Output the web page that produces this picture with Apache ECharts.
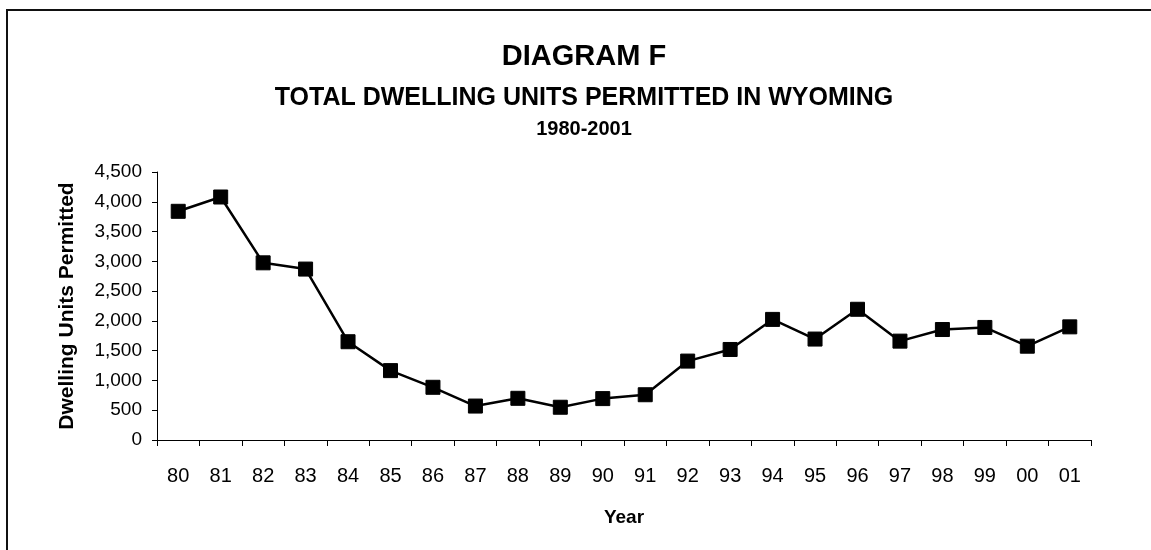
<!DOCTYPE html>
<html>
<head>
<meta charset="utf-8">
<script src="https://cdn.jsdelivr.net/npm/echarts@6/dist/echarts.min.js"></script>
<style>
  html, body { margin: 0; padding: 0; background: #fff; }
  #chart { width: 1151px; height: 550px; }
</style>
</head>
<body>
<div id="chart"></div>
<script>
const years = ['80', '81', '82', '83', '84', '85', '86', '87', '88', '89', '90',
  '91', '92', '93', '94', '95', '96', '97', '98', '99', '00', '01']
const unitsPermitted = [3840, 4080, 2975, 2870, 1650, 1165, 885, 570, 700, 550, 695,
  760, 1325, 1520, 2025, 1695, 2195, 1660, 1855, 1890, 1575, 1900]

const FONT = 'Arial, "Liberation Sans", Helvetica, sans-serif'

const chart = echarts.init(document.getElementById('chart'))

const option = {
  animation: false,
  backgroundColor: '#fff',
  grid: { left: 157, right: 60, top: 172, bottom: 110 },
  graphic: [
    // frame round the chart (only top and left edges are visible)
    {
      type: 'polyline',
      shape: { points: [[7, 560], [7, 10], [1160, 10]] },
      style: { stroke: '#111', lineWidth: 2, fill: null }
    },
    {
      type: 'text', x: 584, y: 57,
      style: { text: 'DIAGRAM F', align: 'center', verticalAlign: 'middle',
        fontFamily: FONT, fontWeight: 'bold', fontSize: 29, fill: '#000' }
    },
    {
      type: 'text', x: 584, y: 98,
      style: { text: 'TOTAL DWELLING UNITS PERMITTED IN WYOMING', align: 'center', verticalAlign: 'middle',
        fontFamily: FONT, fontWeight: 'bold', fontSize: 25, fill: '#000' }
    },
    {
      type: 'text', x: 584, y: 129,
      style: { text: '1980-2001', align: 'center', verticalAlign: 'middle',
        fontFamily: FONT, fontWeight: 'bold', fontSize: 20, fill: '#000' }
    }
  ],
  xAxis: {
    type: 'category',
    data: years,
    boundaryGap: true,
    name: 'Year',
    nameLocation: 'middle',
    nameGap: 68,
    nameTextStyle: { fontFamily: FONT, fontWeight: 'bold', fontSize: 19, color: '#000' },
    axisLine: { lineStyle: { color: '#000', width: 1 } },
    axisTick: { show: true, length: 6, inside: false, alignWithLabel: false, lineStyle: { color: '#000' } },
    axisLabel: { margin: 26, fontFamily: FONT, fontSize: 20, color: '#000' },
    splitLine: { show: false }
  },
  yAxis: {
    type: 'value',
    min: 0,
    max: 4500,
    interval: 500,
    name: 'Dwelling Units Permitted',
    nameLocation: 'middle',
    nameRotate: 90,
    nameGap: 79,
    nameTextStyle: { fontFamily: FONT, fontWeight: 'bold', fontSize: 21, color: '#000' },
    axisLine: { show: true, lineStyle: { color: '#000', width: 1 } },
    axisTick: { show: true, length: 5, lineStyle: { color: '#000' } },
    axisLabel: {
      margin: 15, fontFamily: FONT, fontSize: 19, color: '#000',
      formatter: v => v.toLocaleString('en-US')
    },
    splitLine: { show: false }
  },
  series: [
    {
      type: 'line',
      data: unitsPermitted,
      symbol: 'rect',
      symbolSize: 14,
      showAllSymbol: true,
      lineStyle: { color: '#000', width: 2.5 },
      itemStyle: { color: '#000', borderColor: '#000' }
    }
  ]
}

chart.setOption(option)
window.addEventListener('resize', () => chart.resize())
</script>
</body>
</html>
